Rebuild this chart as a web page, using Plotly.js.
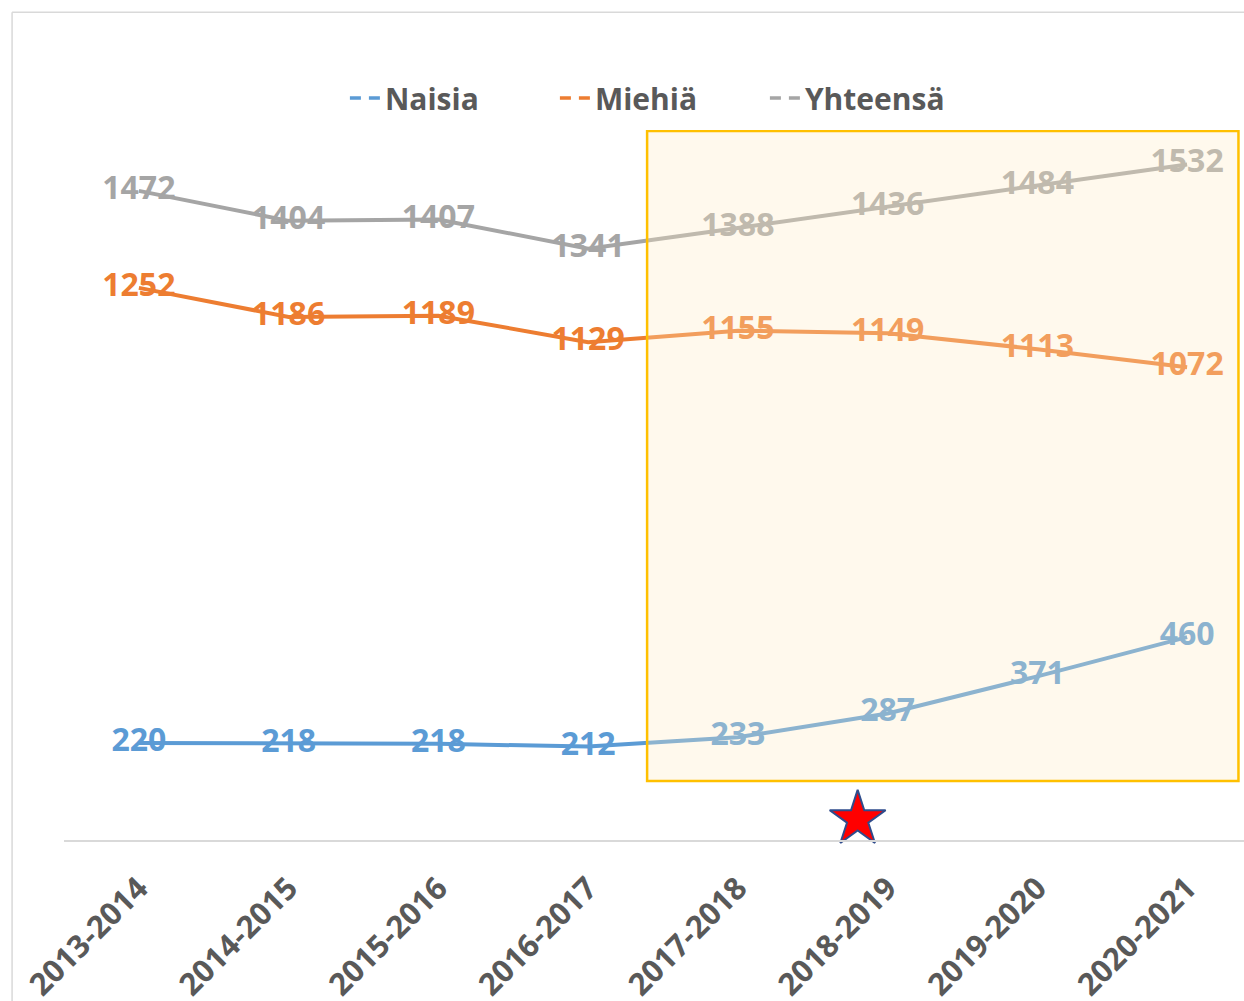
<!DOCTYPE html>
<html><head><meta charset="utf-8">
<script src="https://cdn.plot.ly/plotly-3.0.1.min.js"></script>
<style>html,body{margin:0;padding:0;background:#fff}</style>
</head><body><div id="chart" style="width:1244px;height:1001px"></div>
<script>
const categories = ['2013-2014','2014-2015','2015-2016','2016-2017','2017-2018','2018-2019','2019-2020','2020-2021'];
const naisia   = [220, 218, 218, 212, 233, 287, 371, 460];
const miehia   = [1252, 1186, 1189, 1129, 1155, 1149, 1113, 1072];
const yhteensa = [1472, 1404, 1407, 1341, 1388, 1436, 1484, 1532];
const seriesNames = ['Naisia', 'Miehiä', 'Yhteensä'];
const highlightFrom = '2017-2018';
const highlightTo = '2020-2021';
const starCategory = '2018-2019';

const colors = ['#5B9BD5', '#ED7D31', '#A5A5A5'];
const idx = categories.map((c, i) => i);
const FONT = '"Open Sans", "Noto Sans", sans-serif';

function lineTrace(vals, name, color) {
  return {
    type: 'scatter', mode: 'lines+text', x: idx, y: vals, name: name,
    text: vals.map(v => '<b>' + v + '</b>'), textposition: 'middle center',
    textfont: {family: FONT, size: 32, color: color, weight: 700},
    line: {color: color, width: 4}, showlegend: false, hoverinfo: 'skip',
    cliponaxis: false
  };
}
function legendTrace(name, color) {
  return {
    type: 'scatter', mode: 'lines', x: [null], y: [null], name: '<b>' + name + '</b>',
    line: {color: color, width: 3.5, dash: '11px,8px'}, showlegend: true, hoverinfo: 'skip'
  };
}

const series = [naisia, miehia, yhteensa];
const data = [];
for (let i = 2; i >= 0; i--) data.push(lineTrace(series[i], seriesNames[i], colors[i]));
for (let i = 0; i < 3; i++) data.push(legendTrace(seriesNames[i], colors[i]));
const starIdx = categories.indexOf(starCategory);
data.push({
  type: 'scatter', mode: 'markers', x: [starIdx - 0.2], y: [47], showlegend: false, hoverinfo: 'skip',
  marker: {symbol: 'star', size: 42, color: '#FF0000', line: {color: '#2F4C8C', width: 2}},
  cliponaxis: false
});

const hx0 = categories.indexOf(highlightFrom) - 0.606;
const hx1 = categories.indexOf(highlightTo) + 0.343;

const layout = {
  width: 1244, height: 1001,
  margin: {l: 64, r: 0, t: 130, b: 161},
  paper_bgcolor: '#ffffff', plot_bgcolor: 'rgba(0,0,0,0)',
  font: {family: FONT, color: '#595959'},
  showlegend: true,
  legend: {
    orientation: 'h', x: 0.505, xanchor: 'center', y: 1.045, yanchor: 'middle',
    font: {family: FONT, size: 30, color: '#595959', weight: 700},
    traceorder: 'normal', itemclick: false, entrywidth: 165, entrywidthmode: 'pixels'
  },
  xaxis: {
    range: [-0.5, 7.38], tickvals: idx, ticktext: categories.map(c => '<b>' + c + '</b>'), tickangle: -45,
    tickfont: {family: FONT, size: 31, color: '#595959', weight: 700},
    ticklabelstandoff: 16,
    showline: true, linecolor: '#D9D9D9', linewidth: 1.5, showgrid: false, zeroline: false,
    ticks: '', fixedrange: true
  },
  yaxis: {range: [0, 1610], visible: false, showgrid: false, zeroline: false, fixedrange: true},
  shapes: [
    {type: 'rect', xref: 'x', yref: 'y', x0: hx0, x1: hx1, y0: 134, y1: 1608,
     fillcolor: 'rgba(255,236,196,0.3)', line: {color: '#FFC000', width: 2.5}, layer: 'above'},
    {type: 'line', xref: 'paper', yref: 'paper', x0: -0.044, x1: 1.2, y0: 1.166, y1: 1.166,
     line: {color: '#D9D9D9', width: 1.5}},
    {type: 'line', xref: 'paper', yref: 'paper', x0: -0.044, x1: -0.044, y0: 1.166, y1: -0.3,
     line: {color: '#D9D9D9', width: 1.5}}
  ]
};
Plotly.newPlot('chart', data, layout, {displayModeBar: false, staticPlot: true});
</script>
</body></html>
